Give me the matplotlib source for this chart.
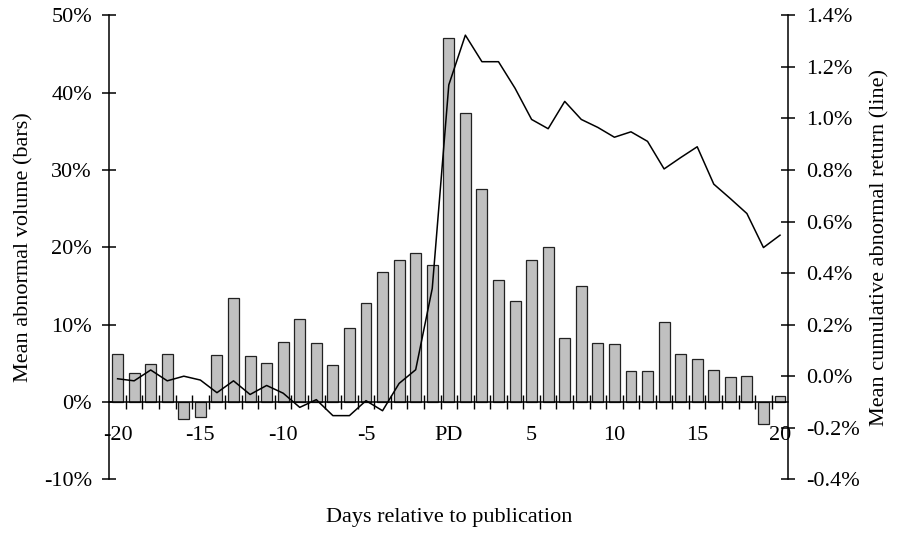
#!/usr/bin/env python3
"""Abnormal volume (bars) and cumulative abnormal return (line) around publication day."""
import matplotlib
matplotlib.use('Agg')
import matplotlib.pyplot as plt
from matplotlib.ticker import FixedLocator, FuncFormatter

plt.rcParams['font.family'] = ['Liberation Serif', 'DejaVu Serif']
plt.rcParams['font.size'] = 16
plt.rcParams['axes.unicode_minus'] = False

# days relative to publication, PD = 0
days = list(range(-20, 21))

# mean abnormal volume, percent
volume = [6.2, 3.8, 4.9, 6.2, -2.2, -2.0, 6.1, 13.4, 5.9, 5.1,
          7.8, 10.7, 7.6, 4.8, 9.6, 12.8, 16.8, 18.4, 19.3, 17.7,
          47.1,
          37.4, 27.6, 15.8, 13.1, 18.4, 20.0, 8.3, 15.0, 7.6, 7.5,
          4.0, 4.0, 10.3, 6.2, 5.6, 4.1, 3.2, 3.4, -2.9, 0.8]

# mean cumulative abnormal return, percent
car = [-0.010, -0.018, 0.024, -0.018, 0.0, -0.015, -0.064, -0.018, -0.071, -0.036,
       -0.066, -0.121, -0.091, -0.153, -0.153, -0.095, -0.134, -0.028, 0.025, 0.34,
       1.13,
       1.323, 1.22, 1.22, 1.117, 0.996, 0.960, 1.066, 0.996, 0.965, 0.927,
       0.948, 0.911, 0.804, 0.848, 0.890, 0.745, 0.689, 0.631, 0.499, 0.547]

xtick_pos = [-20, -15, -10, -5, 0, 5, 10, 15, 20]
xtick_labels = ['-20', '-15', '-10', '-5', 'PD', '5', '10', '15', '20']

W, H = 897, 535
fig = plt.figure(figsize=(W / 100, H / 100), dpi=100)
ax = fig.add_axes((109.3 / W, 1 - 479.3 / H, (788.3 - 109.3) / W, (479.3 - 15.3) / H))

ax.bar(days, volume, width=0.66, color='#c0c0c0', edgecolor='#222222', linewidth=0.9, zorder=2)
ax.set_xlim(-20.5, 20.5)
ax.set_ylim(-10, 50)
ax.set_yticks([-10, 0, 10, 20, 30, 40, 50])
ax.yaxis.set_major_formatter(FuncFormatter(lambda v, _: f'{v:.0f}%'))

ax.spines['top'].set_visible(False)
ax.spines['right'].set_visible(False)
ax.spines['bottom'].set_position(('data', 0))
for s in ('left', 'bottom'):
    ax.spines[s].set_linewidth(1.1)

ax.set_xticks(xtick_pos)
ax.set_xticklabels(xtick_labels)
ax.xaxis.set_minor_locator(FixedLocator([d + 0.5 for d in days[:-1]]))
ax.tick_params(axis='x', which='major', length=0, pad=17)
ax.tick_params(axis='x', which='minor', direction='inout', length=9.5, width=1.0)
ax.tick_params(axis='y', direction='inout', length=10, width=1.1, pad=7.5)

ax.set_xlabel('Days relative to publication')
ax.xaxis.set_label_coords(0.5, -0.062)
ax.set_ylabel('Mean abnormal volume (bars)')
ax.yaxis.set_label_coords(-0.112, 0.5)

ax2 = ax.twinx()
ax2.plot(days, car, color='black', linewidth=1.1, zorder=3)
ax2.set_ylim(-0.4, 1.4)
ax2.set_yticks([-0.4, -0.2, 0.0, 0.2, 0.4, 0.6, 0.8, 1.0, 1.2, 1.4])
ax2.yaxis.set_major_formatter(FuncFormatter(lambda v, _: f'{v:.1f}%'))
for s in ('top', 'bottom', 'left'):
    ax2.spines[s].set_visible(False)
ax2.spines['right'].set_linewidth(1.1)
ax2.tick_params(axis='y', direction='inout', length=10, width=1.1, pad=8)
ax2.set_ylabel('Mean cumulative abnormal return (line)')
ax2.yaxis.set_label_coords(1.12, 0.5)

fig.savefig('out.png', dpi=100)
